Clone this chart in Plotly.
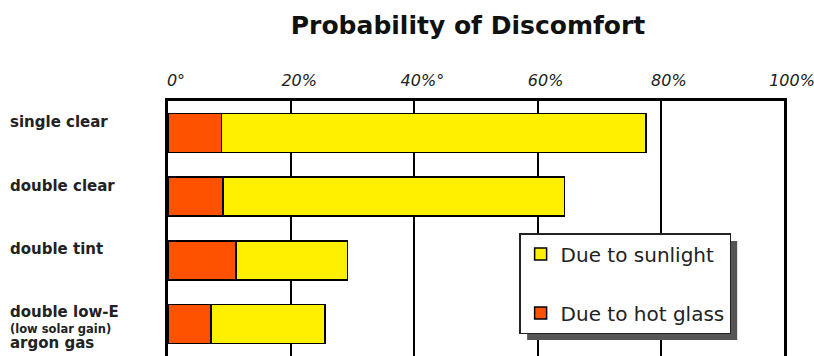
import plotly.graph_objects as go

# Window types (top to bottom) and probability of discomfort, in percent
windows = ["single clear", "double clear", "double tint", "double low-E"]
window_labels = [
    "single clear",
    "double clear",
    "double tint",
    "<span style='font-size:15px'>double low-E</span><br>"
    "<span style='font-size:11.5px'>(low solar gain)</span><br>"
    "<span style='font-size:15px'>argon gas</span>",
]
hot_glass = [8.7, 8.9, 11.0, 7.0]
sunlight = [68.9, 55.5, 18.1, 18.5]

tick_values = [0, 20, 40, 60, 80, 100]
tick_labels = ["0°", "20%", "40%°", "60%", "80%", "100%"]

ORANGE = "#FF5200"
YELLOW = "#FFF000"

fig = go.Figure()
fig.add_trace(go.Bar(
    y=windows, x=hot_glass, orientation="h", name="Due to hot glass",
    legendgroup="glass", legendrank=2,
    marker=dict(color=ORANGE, line=dict(color="black", width=1.5)),
))
fig.add_trace(go.Bar(
    y=windows, x=sunlight, orientation="h", name="Due to sunlight",
    legendgroup="sun", legendrank=1,
    marker=dict(color=YELLOW, line=dict(color="black", width=1.5)),
))

# Category labels, left aligned at the page edge
for cat, lab in zip(windows, window_labels):
    multi = cat == "double low-E"
    fig.add_annotation(
        x=0, xref="paper", y=cat, yref="y", text=lab, showarrow=False,
        xanchor="left", yanchor="middle", xshift=-160,
        yshift=-3 if multi else 11,
        align="left",
        font=dict(family="DejaVu Sans", size=12 if multi else 15,
                  color="#222", weight="bold"),
    )

# Drop shadow behind the legend box
fig.add_shape(
    type="rect", xref="paper", yref="paper",
    x0=0.583, x1=0.924, y0=0.063, y1=0.451,
    fillcolor="#555555", line=dict(width=0), layer="above",
)

fig.update_layout(
    width=814, height=356,
    margin=dict(l=168, r=30, t=101, b=0),
    paper_bgcolor="white", plot_bgcolor="white",
    barmode="stack", bargap=0.39,
    title=dict(
        text="Probability of Discomfort", x=0.575, xanchor="center",
        y=0.93, yanchor="middle",
        font=dict(family="DejaVu Sans", size=25, color="#111", weight="bold"),
    ),
    xaxis=dict(
        side="top", range=[0, 100], tickvals=tick_values, ticktext=tick_labels,
        showgrid=True, gridcolor="black", gridwidth=2,
        showline=True, linecolor="black", linewidth=3, mirror=False,
        ticks="", ticklabelstandoff=6, ticklabelshift=8, zeroline=False,
        ticklabeloverflow="allow", automargin=False,
        tickfont=dict(family="DejaVu Sans", size=16, color="#222",
                      style="italic", weight="normal"),
    ),
    yaxis=dict(
        range=[3.5, -0.5], showticklabels=False, showgrid=False,
        showline=True, linecolor="black", linewidth=3, mirror=True,
        ticks="", zeroline=False, automargin=False,
    ),
    showlegend=True,
    legend=dict(
        x=0.570, xanchor="left", y=0.482, yanchor="top",
        bgcolor="white", bordercolor="#222", borderwidth=1.5,
        traceorder="grouped", tracegroupgap=30,
        font=dict(family="DejaVu Sans", size=20, color="#222"),
        itemwidth=30,
    ),
)

fig.write_html("out.html")
